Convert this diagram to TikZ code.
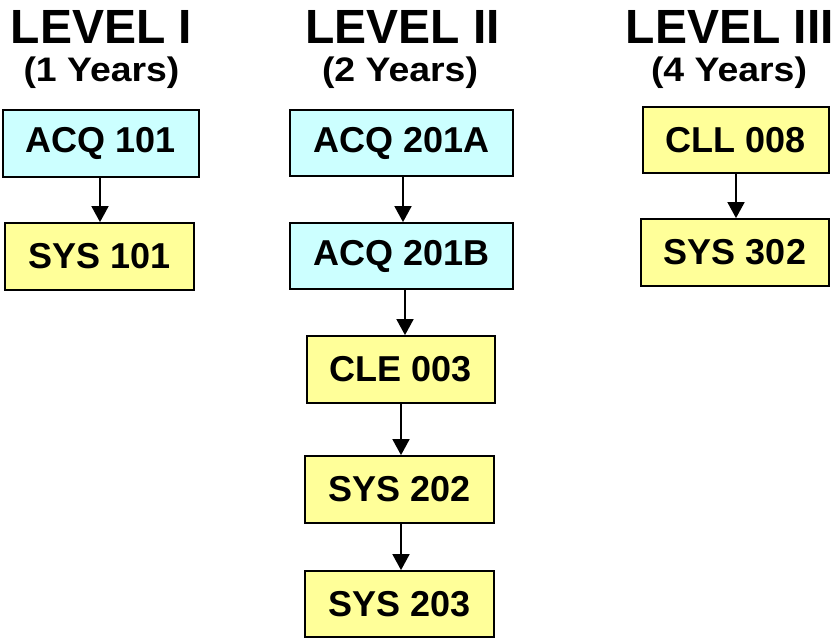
\documentclass[tikz,border=0pt]{standalone}
\usepackage{fontspec}
\setmainfont{Liberation Sans}
\usetikzlibrary{arrows.meta}
\definecolor{boxcyan}{HTML}{CCFFFF}
\definecolor{boxyellow}{HTML}{FFFF99}
\newcommand{\yrs}[1]{\scalebox{1.1}[1]{#1}}
\begin{document}
\begin{tikzpicture}[x=1pt,y=-1pt,
  course/.style={draw=black, line width=1.8pt, inner sep=0pt, minimum height=67pt,
     font=\fontsize{36}{36}\selectfont\bfseries},
  cyanbox/.style={course, fill=boxcyan},
  yellowbox/.style={course, fill=boxyellow},
  leveltitle/.style={anchor=base, inner sep=0pt, font=\fontsize{48}{48}\selectfont\bfseries},
  yearstitle/.style={anchor=base, inner sep=0pt, font=\fontsize{34}{34}\selectfont\bfseries},
  arr/.style={line width=1.8pt, -{Triangle[width=17pt,length=16pt]}}]
\useasboundingbox (0,0) rectangle (834,637);
% titles
\node[leveltitle] (t1) at (101.5,43) {LEVEL I};
\node[yearstitle] (y1) at (101.5,81) {\yrs{(1 Years)}};
\node[leveltitle] (t2) at (402.5,43) {LEVEL II};
\node[yearstitle] (y2) at (400,81) {\yrs{(2 Years)}};
\node[leveltitle] (t3) at (730,43) {LEVEL III};
\node[yearstitle] (y3) at (729,81) {\yrs{(4 Years)}};
% level I
\node[cyanbox, minimum width=196pt] (acq101) at (101,143.5) {ACQ 101};
\node[yellowbox, minimum width=189pt] (sys101) at (99.5,256.5) {SYS 101};
% level II
\node[cyanbox, minimum width=223pt, minimum height=66pt] (acq201a) at (401.5,143) {ACQ 201A};
\node[cyanbox, minimum width=223pt, minimum height=66pt] (acq201b) at (401.5,256) {ACQ 201B};
\node[yellowbox, minimum width=188pt] (cle003) at (401,369.5) {CLE 003};
\node[yellowbox, minimum width=189pt] (sys202) at (399.5,489.5) {SYS 202};
\node[yellowbox, minimum width=189pt, minimum height=66pt] (sys203) at (399.5,604) {SYS 203};
% level III
\node[yellowbox, minimum width=186pt, minimum height=66pt] (cll008) at (736,140) {CLL 008};
\node[yellowbox, minimum width=188pt] (sys302) at (735,252.5) {SYS 302};
% arrows
\draw[arr] ([xshift=-1pt]acq101.south) -- ([xshift=-1pt]acq101.south |- sys101.north);
\draw[arr] ([xshift=1.5pt]acq201a.south) -- ([xshift=1.5pt]acq201a.south |- acq201b.north);
\draw[arr] ([xshift=3.5pt]acq201b.south) -- ([xshift=3.5pt]acq201b.south |- cle003.north);
\draw[arr] (cle003.south) -- (cle003.south |- sys202.north);
\draw[arr] ([xshift=1.5pt]sys202.south) -- ([xshift=1.5pt]sys202.south |- sys203.north);
\draw[arr] (cll008.south) -- (cll008.south |- sys302.north);
\end{tikzpicture}
\end{document}
